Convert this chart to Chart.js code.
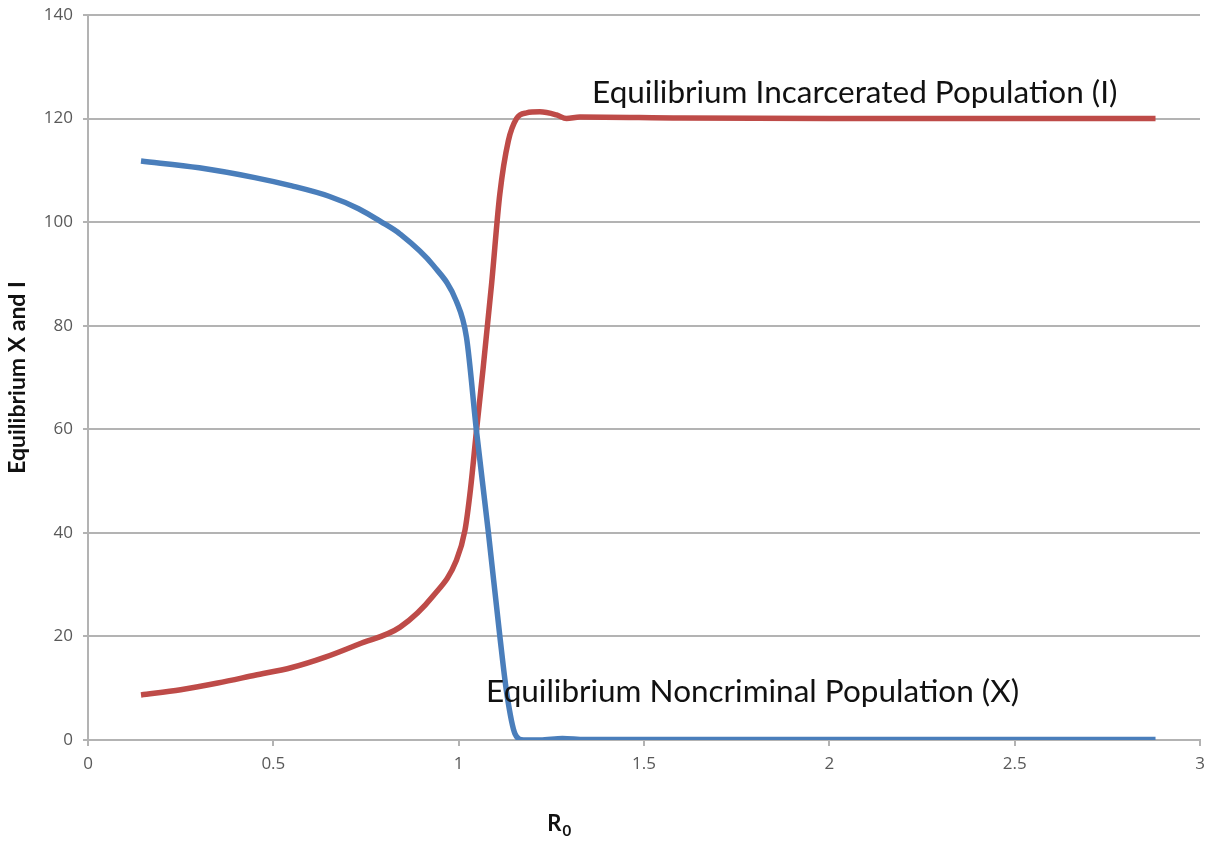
<!DOCTYPE html>
<html>
<head>
<meta charset="utf-8">
<script src="https://cdn.jsdelivr.net/npm/chart.js@4/dist/chart.umd.min.js"></script>
<style>
  html, body { margin: 0; padding: 0; background: #fff; }
  #wrap { width: 1209px; height: 843px; }
</style>
</head>
<body>
<div id="wrap"><canvas id="eqChart"></canvas></div>
<script>
// R0 values and equilibrium populations
const noncrimR0 = [0.143, 0.3, 0.45, 0.55, 0.65, 0.73, 0.79, 0.842, 0.932, 0.994, 1.021, 1.048, 1.080, 1.111, 1.130, 1.152, 1.175, 1.22, 1.28, 1.34, 1.6, 2.0, 2.5, 2.88];
const noncrimX  = [111.8, 110.5, 108.6, 107.0, 105.0, 102.6, 100.1, 97.7, 91.6, 84.7, 77.8, 59.7, 40.2, 20.1, 8.9, 1.2, 0.0, 0.0, 0.3, 0.1, 0.1, 0.1, 0.1, 0.1];

const incarcR0 = [0.143, 0.25, 0.35, 0.45, 0.55, 0.64, 0.73, 0.842, 0.932, 0.994, 1.017, 1.032, 1.048, 1.066, 1.089, 1.111, 1.134, 1.156, 1.183, 1.219, 1.264, 1.291, 1.327, 1.6, 2.0, 2.5, 2.88];
const incarcI  = [8.7, 9.7, 11.0, 12.5, 14.0, 16.0, 18.5, 21.8, 27.9, 34.7, 40.5, 48.5, 59.7, 71.8, 88.2, 105.4, 115.7, 120.0, 121.1, 121.3, 120.7, 120.0, 120.3, 120.1, 120.0, 120.0, 120.0];

const xTicks = [0, 0.5, 1, 1.5, 2, 2.5, 3];
const yTicks = [0, 20, 40, 60, 80, 100, 120, 140];

const labels = [
  { text: 'Equilibrium Incarcerated Population (I)', x: 1.36, y: 124.9 },
  { text: 'Equilibrium Noncriminal Population (X)', x: 1.074, y: 9.3 }
];
const xTitle = { main: 'R', sub: '0', x: 1.27 };

const COLORS = {
  blue: '#4a7ebb',
  red: '#be4b48',
  grid: '#b3b3b3',
  tick: '#595959',
  text: '#111'
};

const pts = (xs, ys) => xs.map((x, i) => ({ x, y: ys[i] }));

const textPlugin = {
  id: 'curveLabels',
  afterDraw(chart) {
    const { ctx, scales } = chart;
    ctx.save();
    ctx.fillStyle = COLORS.text;
    ctx.font = '31.5px Lato, sans-serif';
    ctx.textAlign = 'left';
    ctx.textBaseline = 'middle';
    labels.forEach(l => {
      ctx.fillText(l.text, scales.x.getPixelForValue(l.x), scales.y.getPixelForValue(l.y));
    });
    // x axis title R with subscript 0
    const cx = scales.x.getPixelForValue(xTitle.x);
    ctx.textBaseline = 'alphabetic';
    ctx.font = 'bold 22px Lato, sans-serif';
    const wR = ctx.measureText(xTitle.main).width;
    ctx.font = 'bold 15px Lato, sans-serif';
    const w0 = ctx.measureText(xTitle.sub).width;
    const left = cx - (wR + w0) / 2;
    ctx.font = 'bold 22px Lato, sans-serif';
    ctx.fillText(xTitle.main, left, 831);
    ctx.font = 'bold 15px Lato, sans-serif';
    ctx.fillText(xTitle.sub, left + wR + 1, 836);
    ctx.restore();
  }
};

new Chart(document.getElementById('eqChart'), {
  type: 'scatter',
  data: {
    datasets: [
      {
        label: 'X',
        data: pts(noncrimR0, noncrimX),
        showLine: true,
        borderColor: COLORS.blue,
        borderWidth: 5.5,
        pointRadius: 0,
        cubicInterpolationMode: 'monotone'
      },
      {
        label: 'I',
        data: pts(incarcR0, incarcI),
        showLine: true,
        borderColor: COLORS.red,
        borderWidth: 5.5,
        pointRadius: 0,
        cubicInterpolationMode: 'monotone'
      }
    ]
  },
  options: {
    responsive: true,
    maintainAspectRatio: false,
    animation: false,
    layout: { padding: 0 },
    plugins: {
      legend: { display: false },
      tooltip: { enabled: false }
    },
    scales: {
      x: {
        type: 'linear',
        min: 0,
        max: 3,
        afterBuildTicks: s => { s.ticks = xTicks.map(v => ({ value: v })); },
        afterFit: s => { s.height = 103; s.paddingRight = 9; s.paddingLeft = 0; },
        grid: { drawOnChartArea: false, color: COLORS.grid, lineWidth: 2, tickLength: 6 },
        border: { color: COLORS.grid, width: 2 },
        ticks: {
          color: COLORS.tick,
          font: { size: 17, family: '"Open Sans", sans-serif' },
          padding: 8,
          maxRotation: 0,
          callback: v => String(v)
        }
      },
      y: {
        min: 0,
        max: 140,
        afterBuildTicks: s => { s.ticks = yTicks.map(v => ({ value: v })); },
        afterFit: s => { s.width = 88; s.paddingTop = 15; s.paddingBottom = 0; },
        grid: { color: COLORS.grid, lineWidth: 2, tickLength: 5 },
        border: { color: COLORS.grid, width: 2 },
        ticks: { color: COLORS.tick, font: { size: 17, family: '"Open Sans", sans-serif' }, padding: 10 },
        title: {
          display: true,
          text: 'Equilibrium X and I',
          color: COLORS.text,
          font: { size: 23, weight: 'bold', family: 'Lato, sans-serif' },
          padding: { top: 4, bottom: 0 }
        }
      }
    }
  },
  plugins: [textPlugin]
});
</script>
</body>
</html>
